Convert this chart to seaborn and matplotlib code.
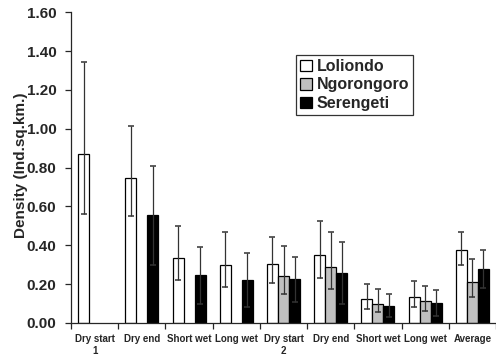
import numpy as np
import pandas as pd
import matplotlib
matplotlib.use("Agg")
import matplotlib.pyplot as plt
import seaborn as sns

seasons = ["Dry start\n1", "Dry end", "Short wet", "Long wet", "Dry start\n2",
           "Dry end", "Short wet", "Long wet", "Average"]
sites = ["Loliondo", "Ngorongoro", "Serengeti"]

# mean density per season (nan = not surveyed)
loliondo = [0.868, 0.745, 0.333, 0.297, 0.302, 0.348, 0.122, 0.135, 0.374]
ngorongoro = [np.nan, np.nan, np.nan, np.nan, 0.243, 0.287, 0.099, 0.112, 0.212]
serengeti = [np.nan, 0.554, 0.247, 0.221, 0.225, 0.259, 0.089, 0.101, 0.278]

# error bar ends
loliondo_lo = [0.561, 0.550, 0.221, 0.187, 0.206, 0.231, 0.072, 0.084, 0.297]
loliondo_hi = [1.344, 1.013, 0.500, 0.470, 0.441, 0.526, 0.199, 0.218, 0.467]
ngorongoro_lo = [np.nan, np.nan, np.nan, np.nan, 0.151, 0.175, 0.055, 0.063, 0.135]
ngorongoro_hi = [np.nan, np.nan, np.nan, np.nan, 0.398, 0.468, 0.177, 0.192, 0.329]
serengeti_lo = [np.nan, 0.300, 0.100, 0.080, 0.110, 0.100, 0.030, 0.035, 0.180]
serengeti_hi = [np.nan, 0.808, 0.392, 0.362, 0.341, 0.417, 0.151, 0.168, 0.377]

means = [loliondo, ngorongoro, serengeti]
lows = [loliondo_lo, ngorongoro_lo, serengeti_lo]
highs = [loliondo_hi, ngorongoro_hi, serengeti_hi]
colors = ["white", "#c0c0c0", "black"]

rows = []
for s, vals in zip(sites, means):
    for i, v in enumerate(vals):
        if not np.isnan(v):
            rows.append({"pos": i, "site": s, "density": v})
df = pd.DataFrame(rows)

sns.set_style("ticks")
plt.rcParams["font.family"] = ["Liberation Sans", "DejaVu Sans"]
plt.rcParams["font.weight"] = "bold"

fig = plt.figure(figsize=(4.96, 3.58), dpi=100)
ax = fig.add_axes([71 / 496, 1 - 323 / 358, 425 / 496, (323 - 12.3) / 358])

width = 0.7
sns.barplot(data=df, x="pos", y="density", hue="site", hue_order=sites,
            order=list(range(len(seasons))), palette=colors, width=width,
            edgecolor="black", linewidth=0.9, errorbar=None, ax=ax, zorder=2)

bw = width / 3
for j in range(3):
    for i in range(len(seasons)):
        v = means[j][i]
        if np.isnan(v):
            continue
        x = i + (j - 1) * bw
        ax.errorbar(x, v, yerr=[[v - lows[j][i]], [highs[j][i] - v]],
                    fmt="none", ecolor="#333333", elinewidth=0.9,
                    capsize=2.2, capthick=1.1, zorder=3)

ax.set_xlim(-0.5, len(seasons) - 0.5)
ax.set_ylim(0, 1.6)
ax.set_yticks(np.arange(0, 1.61, 0.2))
ax.set_yticklabels([f"{t:.2f}" for t in np.arange(0, 1.61, 0.2)],
                   fontsize=11, fontweight="bold")
ax.set_xticks(range(len(seasons)))
ax.set_xticklabels(seasons, fontsize=7, fontweight="bold")
ax.tick_params(axis="x", which="major", length=0, pad=8)
ax.set_xticks(np.arange(-0.5, len(seasons) + 0.5, 1), minor=True)
ax.tick_params(axis="x", which="minor", length=4, width=0.9, direction="out")
ax.tick_params(axis="y", length=4, width=0.9, direction="out", pad=6.5)
ax.set_xlabel("")
ax.set_ylabel("Density (Ind.sq.km.)", fontsize=11, fontweight="bold")
ax.yaxis.set_label_coords(-0.101, 0.508)
sns.despine(ax=ax)
for sp in ax.spines.values():
    sp.set_linewidth(0.9)

leg = ax.legend(loc="upper left", bbox_to_anchor=(0.529, 0.8626), frameon=True,
                fancybox=False, edgecolor="black", handlelength=0.75,
                handleheight=0.75, handletextpad=0.3, borderpad=0.25,
                labelspacing=0.22, borderaxespad=0,
                prop={"size": 11.5, "weight": "bold"})
leg.get_frame().set_linewidth(0.9)

fig.savefig("out.png", dpi=100)
